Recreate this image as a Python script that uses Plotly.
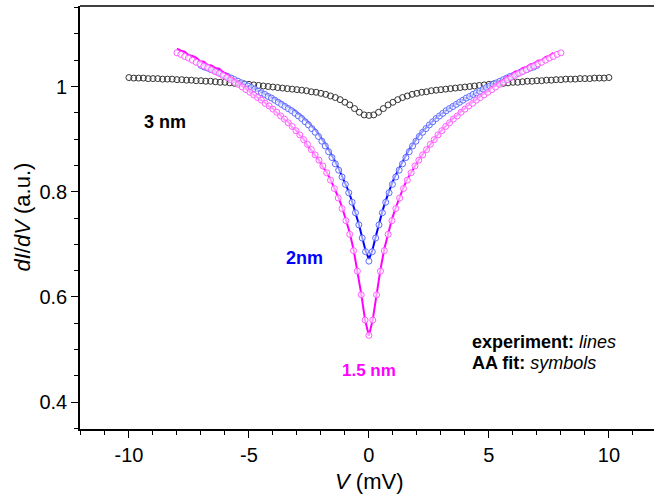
import plotly.graph_objects as go

# ---------------- data ----------------
# 3 nm : AA fit (symbols only)
v_3nm = [-10.0, -9.8, -9.6, -9.4, -9.2, -9.0, -8.8, -8.6, -8.4, -8.2, -8.0, -7.8, -7.6, -7.4, -7.2,
         -7.0, -6.8, -6.6, -6.4, -6.2, -6.0, -5.8, -5.6, -5.4, -5.2, -5.0, -4.8, -4.6, -4.4, -4.2,
         -4.0, -3.8, -3.6, -3.4, -3.2, -3.0, -2.8, -2.6, -2.4, -2.2, -2.0, -1.8, -1.6, -1.4, -1.2,
         -1.0, -0.8, -0.6, -0.4, -0.2, 0.0, 0.2, 0.4, 0.6, 0.8, 1.0, 1.2, 1.4, 1.6, 1.8, 2.0,
         2.2, 2.4, 2.6, 2.8, 3.0, 3.2, 3.4, 3.6, 3.8, 4.0, 4.2, 4.4, 4.6, 4.8, 5.0, 5.2, 5.4, 5.6,
         5.8, 6.0, 6.2, 6.4, 6.6, 6.8, 7.0, 7.2, 7.4, 7.6, 7.8, 8.0, 8.2, 8.4, 8.6, 8.8, 9.0, 9.2,
         9.4, 9.6, 9.8, 10.0]
g_3nm_fit = [1.017, 1.016, 1.016, 1.016, 1.015, 1.015, 1.015, 1.014, 1.014, 1.014, 1.013, 1.013,
             1.012, 1.012, 1.011, 1.011, 1.010, 1.010, 1.009, 1.008, 1.008, 1.007, 1.006, 1.006,
             1.005, 1.004, 1.003, 1.002, 1.001, 1.000, 0.999, 0.998, 0.997, 0.996, 0.995, 0.994,
             0.993, 0.992, 0.990, 0.989, 0.987, 0.985, 0.982, 0.979, 0.975, 0.970, 0.965, 0.958,
             0.951, 0.946, 0.945, 0.946, 0.951, 0.958, 0.965, 0.970, 0.975, 0.979, 0.982, 0.985,
             0.987, 0.989, 0.990, 0.992, 0.993, 0.994, 0.995, 0.996, 0.997, 0.998, 0.999, 1.000,
             1.001, 1.002, 1.003, 1.004, 1.005, 1.006, 1.006, 1.007, 1.008, 1.008, 1.009, 1.010,
             1.010, 1.011, 1.011, 1.012, 1.012, 1.013, 1.013, 1.014, 1.014, 1.014, 1.015, 1.015,
             1.015, 1.016, 1.016, 1.016, 1.017]

# 2 nm : experiment (line) and AA fit (symbols)
v_2nm = [-7.00, -6.86, -6.72, -6.58, -6.44, -6.30, -6.16, -6.02, -5.88, -5.74, -5.60, -5.46, -5.32,
         -5.18, -5.04, -4.90, -4.76, -4.62, -4.48, -4.34, -4.20, -4.06, -3.92, -3.78, -3.64, -3.50,
         -3.36, -3.22, -3.08, -2.94, -2.80, -2.66, -2.52, -2.38, -2.24, -2.10, -1.96, -1.82, -1.68,
         -1.54, -1.40, -1.26, -1.12, -0.98, -0.84, -0.70, -0.56, -0.42, -0.28, -0.14, 0.00, 0.14,
         0.28, 0.42, 0.56, 0.70, 0.84, 0.98, 1.12, 1.26, 1.40, 1.54, 1.68, 1.82, 1.96, 2.10, 2.24,
         2.38, 2.52, 2.66, 2.80, 2.94, 3.08, 3.22, 3.36, 3.50, 3.64, 3.78, 3.92, 4.06, 4.20, 4.34,
         4.48, 4.62, 4.76, 4.90, 5.04, 5.18, 5.32, 5.46, 5.60, 5.74, 5.88, 6.02, 6.16, 6.30, 6.44,
         6.58, 6.72, 6.86, 7.00]
g_2nm_fit = [1.040, 1.037, 1.035, 1.032, 1.030, 1.027, 1.024, 1.021, 1.019, 1.016, 1.013, 1.010,
             1.007, 1.004, 1.001, 0.998, 0.995, 0.991, 0.988, 0.985, 0.981, 0.978, 0.974, 0.970,
             0.966, 0.962, 0.958, 0.954, 0.949, 0.944, 0.939, 0.933, 0.927, 0.920, 0.913, 0.905,
             0.896, 0.887, 0.876, 0.865, 0.853, 0.841, 0.828, 0.814, 0.798, 0.780, 0.760, 0.737,
             0.712, 0.686, 0.668, 0.686, 0.712, 0.737, 0.760, 0.780, 0.798, 0.814, 0.828, 0.841,
             0.853, 0.865, 0.876, 0.887, 0.896, 0.905, 0.913, 0.920, 0.927, 0.933, 0.939, 0.944,
             0.949, 0.954, 0.958, 0.962, 0.966, 0.970, 0.974, 0.978, 0.981, 0.985, 0.988, 0.991,
             0.995, 0.998, 1.001, 1.004, 1.007, 1.010, 1.013, 1.016, 1.019, 1.021, 1.024, 1.027,
             1.030, 1.032, 1.035, 1.037, 1.040]
g_2nm_exp = [None, 1.033, 1.032, 1.028, 1.027, 1.023, 1.022, 1.018, 1.017, 1.013, 1.012, 1.008,
             1.006, 1.003, 1.001, 0.998, 0.996, 0.992, 0.990, 0.986, 0.984, 0.980, 0.977, 0.973,
             0.970, 0.965, 0.962, 0.957, 0.954, 0.948, 0.944, 0.937, 0.932, 0.924, 0.918, 0.909,
             0.901, 0.891, 0.880, 0.869, 0.857, 0.844, 0.830, 0.816, 0.800, 0.781, 0.761, 0.738,
             0.713, 0.688, 0.672, 0.688, 0.714, 0.740, 0.763, 0.783, 0.801, 0.818, 0.832, 0.845,
             0.857, 0.869, 0.880, 0.890, 0.899, 0.908, 0.915, 0.922, 0.929, 0.934, 0.940, 0.945,
             0.950, 0.955, 0.959, 0.963, 0.967, 0.971, 0.974, 0.978, 0.981, 0.985, 0.988, 0.992,
             0.995, 0.999, 1.002, 1.005, 1.008, 1.011, 1.014, 1.017, 1.020, 1.022, 1.026, 1.028,
             1.031, 1.033, 1.036, 1.038, None]

# 1.5 nm : experiment (line) and AA fit (symbols)
v_15nm = [-8.00, -7.84, -7.68, -7.52, -7.36, -7.20, -7.04, -6.88, -6.72, -6.56, -6.40, -6.24, -6.08,
          -5.92, -5.76, -5.60, -5.44, -5.28, -5.12, -4.96, -4.80, -4.64, -4.48, -4.32, -4.16, -4.00,
          -3.84, -3.68, -3.52, -3.36, -3.20, -3.04, -2.88, -2.72, -2.56, -2.40, -2.24, -2.08, -1.92,
          -1.76, -1.60, -1.44, -1.28, -1.12, -0.96, -0.80, -0.64, -0.48, -0.32, -0.16, 0.00, 0.16,
          0.32, 0.48, 0.64, 0.80, 0.96, 1.12, 1.28, 1.44, 1.60, 1.76, 1.92, 2.08, 2.24, 2.40, 2.56,
          2.72, 2.88, 3.04, 3.20, 3.36, 3.52, 3.68, 3.84, 4.00, 4.16, 4.32, 4.48, 4.64, 4.80, 4.96,
          5.12, 5.28, 5.44, 5.60, 5.76, 5.92, 6.08, 6.24, 6.40, 6.56, 6.72, 6.88, 7.04, 7.20, 7.36,
          7.52, 7.68, 7.84, 8.00]
g_15nm_fit = [1.064, 1.061, 1.057, 1.054, 1.050, 1.046, 1.043, 1.039, 1.036, 1.032, 1.028, 1.025,
              1.021, 1.017, 1.013, 1.008, 1.004, 0.999, 0.994, 0.989, 0.984, 0.979, 0.974, 0.968,
              0.963, 0.957, 0.951, 0.944, 0.938, 0.931, 0.924, 0.916, 0.908, 0.899, 0.890, 0.880,
              0.870, 0.860, 0.849, 0.836, 0.822, 0.806, 0.788, 0.768, 0.745, 0.719, 0.688, 0.649,
              0.604, 0.556, 0.527, 0.556, 0.604, 0.649, 0.688, 0.719, 0.745, 0.768, 0.788, 0.806,
              0.822, 0.836, 0.849, 0.860, 0.870, 0.880, 0.890, 0.899, 0.908, 0.916, 0.924, 0.931,
              0.938, 0.944, 0.951, 0.957, 0.963, 0.968, 0.974, 0.979, 0.984, 0.989, 0.994, 0.999,
              1.004, 1.008, 1.013, 1.017, 1.021, 1.025, 1.028, 1.032, 1.036, 1.039, 1.043, 1.046,
              1.050, 1.054, 1.057, 1.061, 1.064]
g_15nm_exp = [1.072, 1.068, 1.066, 1.060, 1.058, 1.055, 1.048, 1.047, 1.041, 1.040, 1.035, 1.034,
              1.027, 1.024, 1.017, 1.013, 1.006, 1.001, 0.995, 0.990, 0.984, 0.979, 0.973, 0.969,
              0.962, 0.958, 0.950, 0.945, 0.937, 0.932, 0.923, 0.917, 0.907, 0.900, 0.888, 0.879,
              0.868, 0.860, 0.847, 0.837, 0.823, 0.808, 0.790, 0.771, 0.748, 0.722, 0.690, 0.651,
              0.606, 0.556, 0.526, 0.557, 0.607, 0.652, 0.691, 0.722, 0.748, 0.770, 0.790, 0.808,
              0.824, 0.837, 0.850, 0.861, 0.871, 0.881, 0.891, 0.900, 0.909, 0.917, 0.925, 0.932,
              0.940, 0.945, 0.953, 0.958, 0.965, 0.970, 0.976, 0.981, 0.987, 0.991, 0.998, 1.002,
              1.009, 1.012, 1.019, 1.021, 1.028, 1.029, 1.035, 1.037, 1.042, 1.044, 1.049, 1.050,
              1.056, 1.058, 1.064, None, None]

x_ticks = [-10, -5, 0, 5, 10]
y_ticks = [0.4, 0.6, 0.8, 1.0]

# ---------------- figure ----------------
FONT = "Liberation Sans, Arial, sans-serif"
fig = go.Figure()

fig.add_trace(go.Scatter(x=v_3nm, y=g_3nm_fit, mode="markers", name="3 nm fit",
                         marker=dict(symbol="circle-open", size=6, color="#333333",
                                     line=dict(width=1, color="#333333"))))
fig.add_trace(go.Scatter(x=v_2nm, y=g_2nm_exp, mode="lines", name="2 nm exp",
                         line=dict(color="#0000ff", width=2)))
fig.add_trace(go.Scatter(x=v_2nm, y=g_2nm_fit, mode="markers", name="2 nm fit",
                         marker=dict(symbol="circle", size=6, color="rgba(255,255,255,0.6)",
                                     line=dict(width=1, color="#5c6cff"))))
fig.add_trace(go.Scatter(x=v_15nm, y=g_15nm_exp, mode="lines", name="1.5 nm exp",
                         line=dict(color="#ff00ff", width=2)))
fig.add_trace(go.Scatter(x=v_15nm, y=g_15nm_fit, mode="markers", name="1.5 nm fit",
                         marker=dict(symbol="circle", size=6, color="rgba(255,255,255,0.6)",
                                     line=dict(width=1, color="#ff5cff"))))

axis_common = dict(showgrid=False, zeroline=False, showline=True, linecolor="black",
                   linewidth=1.6, ticks="outside", ticklen=7, tickwidth=1.4,
                   tickcolor="black", tickfont=dict(family=FONT, size=20, color="black"))

fig.update_xaxes(range=[-12.04, 11.88], tickvals=x_ticks, ticktext=[str(t) for t in x_ticks],
                 minor=dict(dtick=1, tick0=0, ticks="outside", ticklen=4, tickwidth=1.2,
                            tickcolor="black"),
                 **axis_common)
fig.update_yaxes(range=[0.349, 1.153], tickvals=y_ticks, ticktext=["0.4", "0.6", "0.8", "1"],
                 minor=dict(dtick=0.05, tick0=0, ticks="outside", ticklen=4, tickwidth=1.2,
                            tickcolor="black"),
                 **axis_common)

fig.add_shape(type="line", xref="paper", yref="paper", x0=0, x1=1, y0=1, y1=1,
              line=dict(color="black", width=1.6))

annots = [
    dict(x=-8.5, y=0.9325, text="<b>3 nm</b>", font=dict(family=FONT, size=18, color="black")),
    dict(x=-2.67, y=0.674, text="<b>2nm</b>", font=dict(family=FONT, size=18, color="#0000ff")),
    dict(x=0.0, y=0.461, text="<b>1.5 nm</b>", font=dict(family=FONT, size=17, color="#ff00ff")),
    dict(x=4.21, y=0.5143, text="<b>experiment:</b> <i>lines</i>", xanchor="left",
         font=dict(family=FONT, size=18, color="black")),
    dict(x=4.21, y=0.4743, text="<b>AA fit:</b> <i>symbols</i>", xanchor="left",
         font=dict(family=FONT, size=18, color="black")),
]
for a in annots:
    a.setdefault("xanchor", "center")
    fig.add_annotation(xref="x", yref="y", showarrow=False, yanchor="middle", **a)

fig.add_annotation(xref="paper", yref="paper", x=(369 - 80) / 574, y=(429 - 481) / 423,
                   text="<i>V</i> (mV)", showarrow=False, xanchor="center", yanchor="middle",
                   font=dict(family=FONT, size=22, color="black"))
fig.add_annotation(xref="paper", yref="paper", x=(22 - 80) / 574, y=0.5,
                   text="<i>dI</i>/<i>dV</i> (a.u.)", showarrow=False, textangle=-90,
                   xanchor="center", yanchor="middle",
                   font=dict(family=FONT, size=22, color="black"))

fig.update_layout(width=654, height=498, margin=dict(l=80, r=0, t=6, b=69),
                  paper_bgcolor="white", plot_bgcolor="white", showlegend=False)

fig.write_html("out.html")
